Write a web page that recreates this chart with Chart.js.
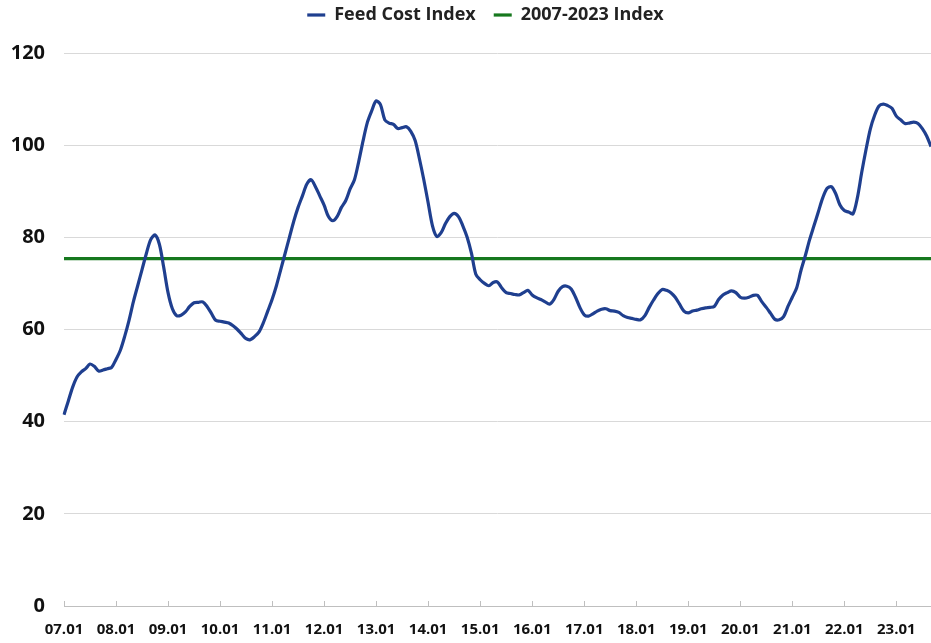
<!DOCTYPE html>
<html>
<head>
<meta charset="utf-8">
<script src="https://cdn.jsdelivr.net/npm/chart.js@4.4.0/dist/chart.umd.min.js"></script>
<style>
  html, body { margin: 0; padding: 0; background: #fff; }
  #wrap { width: 931px; height: 643px; }
</style>
</head>
<body>
<div id="wrap"><canvas id="feedChart"></canvas></div>
<script>
// monthly index, 2007.01 .. 2023.09
var feedCost = [
  41.5, 44.5, 47.5, 49.7, 50.8, 51.5, 52.5, 52.0, 51.0, 51.2, 51.5, 51.8,
  53.5, 55.5, 58.5, 62.0, 66.0, 69.5, 73.0, 76.5, 79.5, 80.5, 78.5, 73.5,
  68.0, 64.5, 63.0, 63.1, 63.8, 65.0, 65.8, 65.9, 66.0, 65.0, 63.5, 62.0,
  61.8, 61.6, 61.4, 60.8, 60.0, 59.0, 58.0, 57.8, 58.5, 59.5, 61.5, 64.0,
  66.5, 69.5, 73.0, 76.5, 80.0, 83.5, 86.5, 89.0, 91.5, 92.5, 91.0, 89.0,
  87.0, 84.5, 83.6, 84.5, 86.5, 88.0, 90.5, 92.5, 96.5, 101.0, 105.0, 107.5,
  109.6, 108.8, 105.5, 104.8, 104.5, 103.6, 103.8, 104.0, 103.0, 101.0, 97.0, 92.5,
  87.5, 82.5, 80.2, 81.0, 83.0, 84.5, 85.2, 84.5, 82.5, 80.0, 76.5, 72.0,
  70.8, 70.0, 69.5, 70.2, 70.3, 69.0, 68.0, 67.8, 67.6, 67.5, 68.0, 68.5,
  67.5, 66.9, 66.5, 66.0, 65.5, 66.5, 68.3, 69.3, 69.4, 68.8, 67.0, 64.8,
  63.2, 62.9, 63.4, 64.0, 64.4, 64.5, 64.1, 64.0, 63.7, 63.0, 62.6, 62.4,
  62.2, 62.1, 63.0, 64.8, 66.4, 67.8, 68.7, 68.5, 68.0, 67.0, 65.5, 64.0,
  63.6, 64.0, 64.2, 64.5, 64.7, 64.8, 65.0, 66.5, 67.5, 68.0, 68.4, 68.0,
  67.0, 66.8, 67.0, 67.4, 67.4, 66.0, 64.8, 63.5, 62.2, 62.1, 62.8, 65.0,
  67.0, 69.0, 72.8, 76.0, 79.5, 82.5, 85.5, 88.5, 90.6, 91.0, 89.5, 87.0,
  85.8, 85.5, 85.1, 88.5, 94.0, 99.0, 103.5, 106.5, 108.5, 108.9, 108.6, 108.0,
  106.3, 105.5, 104.7, 104.8, 105.0, 104.7, 103.6, 102.0, 99.7
];
var avgIndex = 75.4;

var years = ["07","08","09","10","11","12","13","14","15","16","17","18","19","20","21","22","23"];
var months = ["01","02","03","04","05","06","07","08","09","10","11","12"];

var labels = [];
years.forEach(function (y) {
  months.forEach(function (m) { labels.push(y + "." + m); });
});
labels = labels.slice(0, feedCost.length);
var avgLine = feedCost.map(function () { return avgIndex; });

// legend box gets a fixed height so the plot starts where the original does,
// and is nudged right to sit over the plot area like the original
var fixLegend = {
  id: 'fixLegend',
  afterInit: function (chart) {
    var lg = chart.legend;
    var origFit = lg.fit;
    var origDraw = lg.draw;
    lg.fit = function () { origFit.call(this); this.height = 65; };
    lg.draw = function () {
      this.ctx.save();
      this.ctx.translate(20, 0);
      origDraw.call(this);
      this.ctx.restore();
    };
  }
};

new Chart(document.getElementById("feedChart"), {
  type: 'line',
  data: {
    labels: labels,
    datasets: [
      {
        label: "Feed Cost Index",
        data: feedCost,
        borderColor: "#1f3f8f",
        backgroundColor: "#1f3f8f",
        borderWidth: 3.2,
        pointRadius: 0,
        tension: 0.3
      },
      {
        label: "2007-2023 Index",
        data: avgLine,
        borderColor: "#16781e",
        backgroundColor: "#16781e",
        borderWidth: 3.2,
        pointRadius: 0
      }
    ]
  },
  plugins: [fixLegend],
  options: {
    responsive: true,
    maintainAspectRatio: false,
    animation: false,
    layout: { padding: { left: 0, right: 0, top: -12, bottom: 0 } },
    plugins: {
      legend: {
        position: 'top',
        labels: {
          usePointStyle: true,
          pointStyle: 'line',
          pointStyleWidth: 18,
          padding: 18,
          color: '#222',
          font: { family: 'Open Sans', size: 18, weight: 'bold' }
        }
      },
      tooltip: { enabled: false }
    },
    scales: {
      x: {
        offset: false,
        afterBuildTicks: function (scale) {
          scale.ticks = scale.ticks.filter(function (t) { return t.value % 12 === 0; });
        },
        afterFit: function (scale) { scale.height = 37; },
        ticks: {
          autoSkip: false,
          maxRotation: 0,
          padding: 14,
          color: '#111',
          font: { family: 'Open Sans', size: 15, weight: 'bold', lineHeight: 1.9 }
        },
        grid: {
          drawOnChartArea: false,
          drawTicks: true,
          tickLength: -5,
          color: '#bfbfbf'
        },
        border: { color: '#bfbfbf', width: 1 }
      },
      y: {
        min: 0,
        max: 120,
        afterFit: function (scale) { scale.width = 64; },
        ticks: {
          stepSize: 20,
          padding: 19,
          color: '#111',
          font: { family: 'Open Sans', size: 20, weight: 'bold' }
        },
        grid: { color: '#d9d9d9', drawTicks: false },
        border: { display: false }
      }
    }
  }
});
</script>
</body>
</html>
